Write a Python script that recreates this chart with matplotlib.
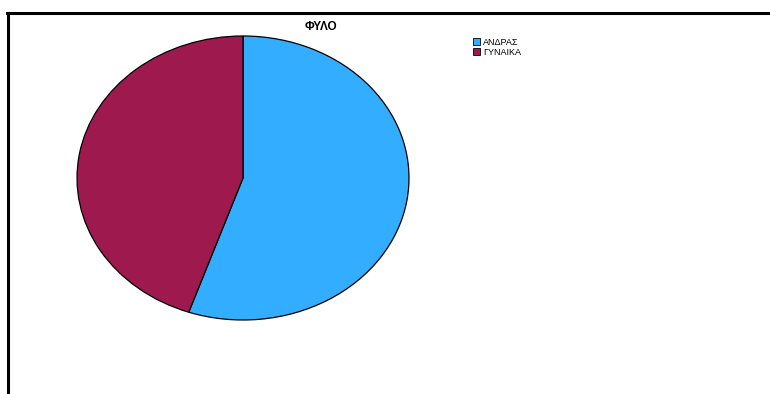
import matplotlib.pyplot as plt
from matplotlib.lines import Line2D
from matplotlib.patches import Patch

# gender split (percent)
labels = ['ΑΝΔΡΑΣ', 'ΓΥΝΑΙΚΑ']
shares = [55.3, 44.7]
colors = ['#33adff', '#9e1a4e']

fig = plt.figure(figsize=(7.7, 3.94), dpi=100)

# pie drawn in a stretched axes so it becomes an ellipse
ax = fig.add_axes([77 / 770, 1 - 320 / 394, 332 / 770, 284 / 394])
ax.pie(shares, colors=colors, startangle=90, counterclock=False,
       wedgeprops=dict(edgecolor='black', linewidth=0.9))
ax.set_aspect('auto')
ax.set_xlim(-1, 1)
ax.set_ylim(-1, 1)
ax.axis('off')

# frame lines on top and left
fig.add_artist(Line2D([7 / 770, 1], [1 - 12.5 / 394, 1 - 12.5 / 394],
                      transform=fig.transFigure, color='black', linewidth=2.2))
fig.add_artist(Line2D([7.5 / 770, 7.5 / 770], [0, 1 - 12.5 / 394],
                      transform=fig.transFigure, color='black', linewidth=2.2))

fig.text(321 / 770, 1 - 27 / 394, 'ΦΥΛΟ', ha='center', va='center',
         fontsize=8.5, fontweight='bold', family='Liberation Sans')

handles = [Patch(facecolor=c, edgecolor='black', linewidth=0.6) for c in colors]
fig.legend(handles, labels, loc='upper left', bbox_to_anchor=(468 / 770, 1 - 33 / 394),
           frameon=False, handlelength=0.85, handleheight=0.85,
           handletextpad=0.35, labelspacing=0.15, borderpad=0,
           prop={'family': 'Liberation Sans', 'size': 6.5})

fig.savefig('out.png', dpi=100)
